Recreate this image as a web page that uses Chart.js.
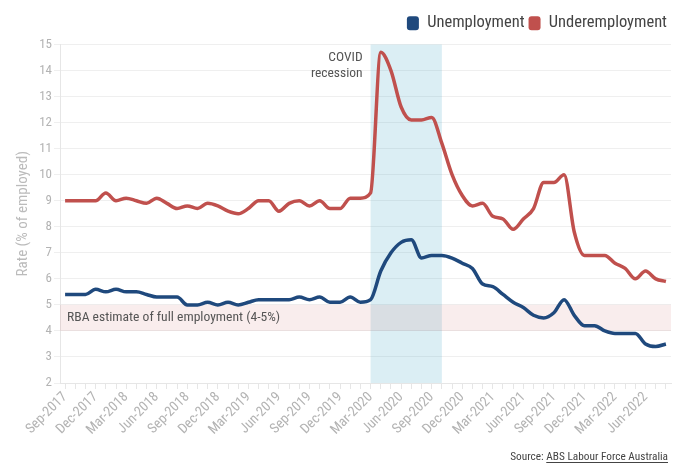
<!DOCTYPE html>
<html>
<head>
<meta charset="utf-8">
<script src="https://cdn.jsdelivr.net/npm/chart.js@4/dist/chart.umd.min.js"></script>
<style>
  html, body { margin: 0; padding: 0; background: #fff; }
  #wrap { width: 684px; height: 464px; position: relative; }
</style>
</head>
<body>
<div id="wrap"><canvas id="c" width="684" height="464"></canvas></div>
<script>
// Monthly labour force figures, Sep-2017 to Aug-2022
const months = [
  'Sep-2017','Oct-2017','Nov-2017','Dec-2017','Jan-2018','Feb-2018','Mar-2018','Apr-2018','May-2018','Jun-2018','Jul-2018','Aug-2018',
  'Sep-2018','Oct-2018','Nov-2018','Dec-2018','Jan-2019','Feb-2019','Mar-2019','Apr-2019','May-2019','Jun-2019','Jul-2019','Aug-2019',
  'Sep-2019','Oct-2019','Nov-2019','Dec-2019','Jan-2020','Feb-2020','Mar-2020','Apr-2020','May-2020','Jun-2020','Jul-2020','Aug-2020',
  'Sep-2020','Oct-2020','Nov-2020','Dec-2020','Jan-2021','Feb-2021','Mar-2021','Apr-2021','May-2021','Jun-2021','Jul-2021','Aug-2021',
  'Sep-2021','Oct-2021','Nov-2021','Dec-2021','Jan-2022','Feb-2022','Mar-2022','Apr-2022','May-2022','Jun-2022','Jul-2022','Aug-2022'
];

const unemployment = [
  5.4,5.4,5.4,5.6,5.5,5.6,5.5,5.5,5.4,5.3,5.3,5.3,
  5.0,5.0,5.1,5.0,5.1,5.0,5.1,5.2,5.2,5.2,5.2,5.3,
  5.2,5.3,5.1,5.1,5.3,5.1,5.2,6.3,7.0,7.4,7.5,6.8,
  6.9,6.9,6.8,6.6,6.4,5.8,5.7,5.4,5.1,4.9,4.6,4.5,
  4.7,5.2,4.6,4.2,4.2,4.0,3.9,3.9,3.9,3.5,3.4,3.5
];

const underemployment = [
  9.0,9.0,9.0,9.0,9.3,9.0,9.1,9.0,8.9,9.1,8.9,8.7,
  8.8,8.7,8.9,8.8,8.6,8.5,8.7,9.0,9.0,8.6,8.9,9.0,
  8.8,9.0,8.7,8.7,9.1,9.1,9.3,14.7,14.0,12.6,12.1,12.1,
  12.2,11.2,10.0,9.2,8.8,8.9,8.4,8.3,7.9,8.3,8.7,9.7,
  9.7,10.0,7.8,6.9,6.9,6.9,6.6,6.4,6.0,6.3,6.0,5.9
];

// Shaded periods and reference band
const recessionStart = 'Mar-2020';
const recessionEnd = 'Oct-2020';
const recessionLabel = ['COVID', 'recession'];
const fullEmploymentRange = [4, 5];
const fullEmploymentLabel = 'RBA estimate of full employment (4-5%)';

const yTicks = { min: 2, max: 15, step: 1 };

const FONT = 'Roboto';
const STRETCH = 'condensed';
const TICK_GREY = '#b3b3b3';

const bandsPlugin = {
  id: 'bands',
  afterLayout(chart) {
    // nudge the legend row up a little above the plot
    const lg = chart.legend;
    if (lg) { lg.top -= 3; lg.bottom -= 3; }
  },
  beforeDatasetsDraw(chart) {
    const { ctx, chartArea: a, scales: { x, y } } = chart;
    ctx.save();
    // COVID recession period
    const x0 = x.getPixelForValue(months.indexOf(recessionStart));
    const x1 = x.getPixelForValue(months.indexOf(recessionEnd));
    ctx.fillStyle = 'rgba(75,172,198,0.2)';
    ctx.fillRect(x0, a.top, x1 - x0, a.bottom - a.top);
    // Full employment band
    const yTop = y.getPixelForValue(fullEmploymentRange[1]);
    const yBot = y.getPixelForValue(fullEmploymentRange[0]);
    ctx.fillStyle = 'rgba(192,80,77,0.1)';
    ctx.fillRect(a.left, yTop, a.right - a.left, yBot - yTop);

    ctx.fillStyle = '#555';
    ctx.font = STRETCH + ' 13.6px ' + FONT;
    ctx.textBaseline = 'middle';
    ctx.textAlign = 'left';
    ctx.fillText(fullEmploymentLabel, a.left + 7, (yTop + yBot) / 2);

    ctx.font = STRETCH + ' 13.5px ' + FONT;
    ctx.textAlign = 'right';
    ctx.fillText(recessionLabel[0], x0 - 8, a.top + 13);
    ctx.fillText(recessionLabel[1], x0 - 8, a.top + 29);
    ctx.restore();
  },
  afterDraw(chart) {
    const { ctx } = chart;
    ctx.save();
    ctx.font = STRETCH + ' 11.3px ' + FONT;
    ctx.textBaseline = 'alphabetic';
    ctx.textAlign = 'left';
    const pre = 'Source: ';
    const link = 'ABS Labour Force Australia';
    const right = 668, base = 460;
    const wLink = ctx.measureText(link).width;
    const wPre = ctx.measureText(pre).width;
    const xLink = right - wLink;
    ctx.fillStyle = '#444';
    ctx.fillText(pre, xLink - wPre, base);
    ctx.fillText(link, xLink, base);
    ctx.strokeStyle = '#444';
    ctx.lineWidth = 1;
    ctx.beginPath();
    ctx.moveTo(xLink, base + 2.5);
    ctx.lineTo(right, base + 2.5);
    ctx.stroke();
    ctx.restore();
  }
};

new Chart(document.getElementById('c'), {
  type: 'line',
  data: {
    labels: months,
    datasets: [
      {
        label: 'Unemployment',
        data: unemployment,
        borderColor: '#1F497D',
        backgroundColor: '#1F497D',
        borderWidth: 3.5,
        pointRadius: 0,
        cubicInterpolationMode: 'monotone'
      },
      {
        label: 'Underemployment',
        data: underemployment,
        borderColor: '#C0504D',
        backgroundColor: '#C0504D',
        borderWidth: 3.5,
        pointRadius: 0,
        cubicInterpolationMode: 'monotone'
      }
    ]
  },
  options: {
    responsive: false,
    animation: false,
    devicePixelRatio: 1,
    layout: { padding: { left: 10, right: 13, top: 14, bottom: 0 } },
    plugins: {
      tooltip: { enabled: false },
      legend: {
        position: 'top',
        align: 'end',
        labels: {
          font: { family: FONT, size: 16.5, weight: STRETCH },
          color: '#444',
          boxWidth: 12,
          boxHeight: 14,
          useBorderRadius: true,
          borderRadius: 3,
          padding: 4,
          generateLabels(chart) {
            return Chart.defaults.plugins.legend.labels.generateLabels(chart).map(it => {
              it.lineWidth = 0;
              it.strokeStyle = 'rgba(0,0,0,0)';
              return it;
            });
          }
        }
      }
    },
    scales: {
      x: {
        offset: true,
        border: { color: '#e6e6e6' },
        grid: { drawOnChartArea: false, drawTicks: true, tickLength: 6, color: '#e6e6e6' },
        ticks: {
          autoSkip: false,
          minRotation: 45,
          maxRotation: 45,
          padding: 0,
          color: TICK_GREY,
          font: { family: FONT, size: 14, weight: STRETCH },
          callback(v, i) { return i % 3 === 0 ? months[i] : ''; }
        },
        afterFit(scale) { scale.height = 81; }
      },
      y: {
        min: yTicks.min,
        max: yTicks.max,
        border: { color: '#e6e6e6' },
        grid: { color: '#efefef', tickLength: 6 },
        ticks: {
          stepSize: yTicks.step,
          padding: 2,
          color: TICK_GREY,
          font: { family: FONT, size: 13, weight: STRETCH }
        },
        title: {
          display: true,
          text: 'Rate (% of employed)',
          color: '#bbbbbb',
          font: { family: FONT, size: 15, weight: STRETCH }
        },
        afterFit(scale) { scale.width = 50; }
      }
    }
  },
  plugins: [bandsPlugin]
});
</script>
</body>
</html>
